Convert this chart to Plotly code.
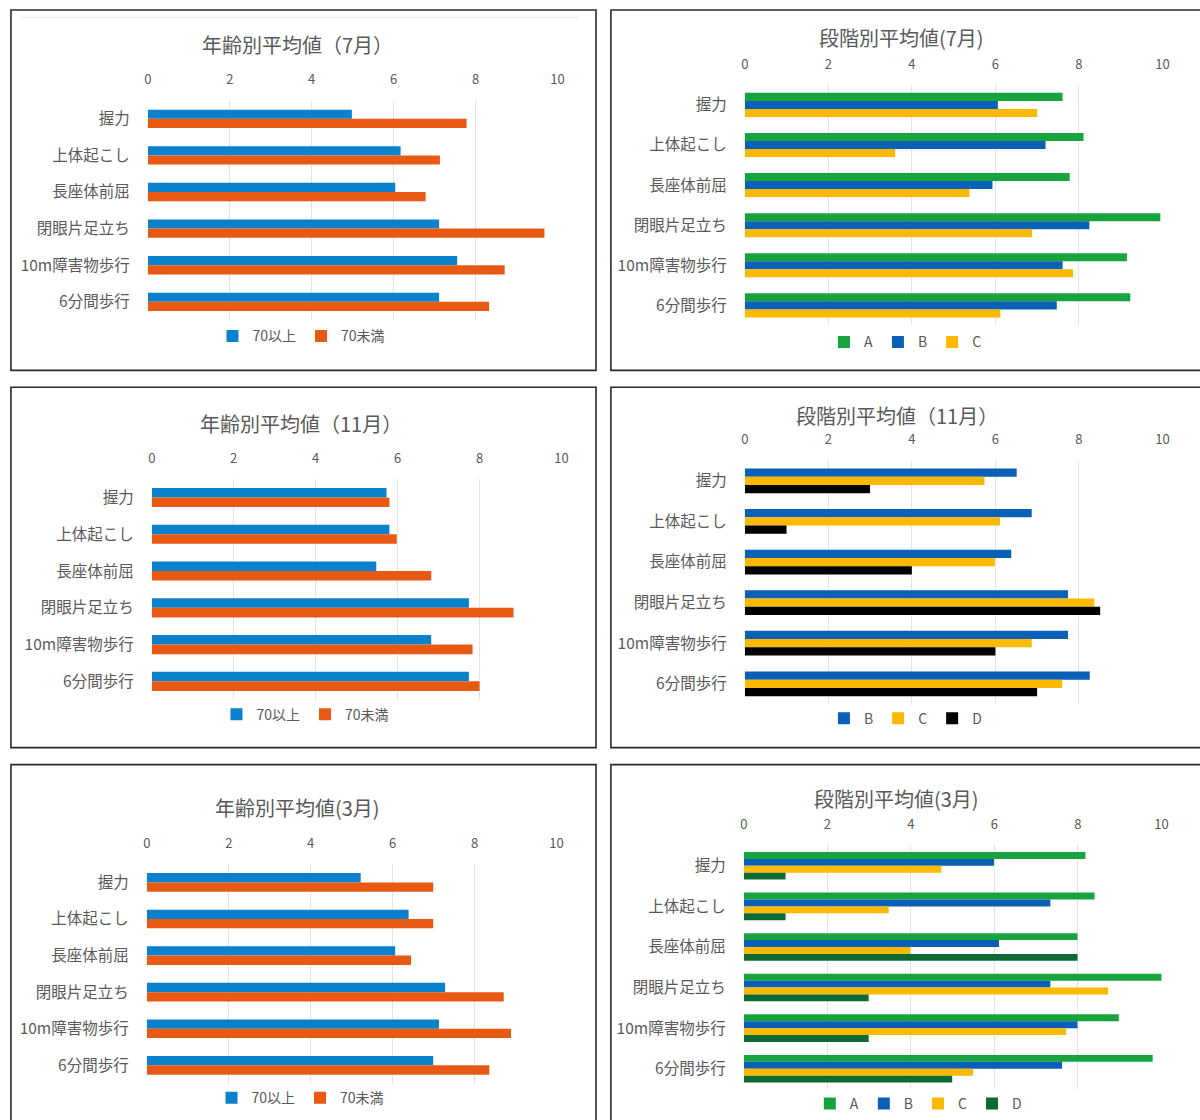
import plotly.graph_objects as go

# ---- data -------------------------------------------------------------
categories = ["握力", "上体起こし", "長座体前屈", "閉眼片足立ち", "10m障害物歩行", "6分間歩行"]
x_ticks = [0, 2, 4, 6, 8, 10]

# 年齢別 (70以上 / 70未満)
age_jul_70over = [4.98, 6.17, 6.04, 7.11, 7.55, 7.11]
age_jul_70under = [7.78, 7.13, 6.78, 9.68, 8.71, 8.33]
age_nov_70over = [5.73, 5.80, 5.48, 7.74, 6.82, 7.74]
age_nov_70under = [5.80, 5.98, 6.82, 8.83, 7.83, 8.00]
age_mar_70over = [5.22, 6.39, 6.06, 7.28, 7.13, 6.99]
age_mar_70under = [6.99, 6.99, 6.45, 8.71, 8.89, 8.36]

# 段階別 (A / B / C / D)
stage_jul_A = [7.61, 8.11, 7.78, 9.95, 9.15, 9.23]
stage_jul_B = [6.06, 7.20, 5.93, 8.25, 7.61, 7.47]
stage_jul_C = [7.00, 3.60, 5.38, 6.88, 7.86, 6.12]
stage_nov_B = [6.51, 6.87, 6.38, 7.74, 7.74, 8.26]
stage_nov_C = [5.74, 6.11, 5.99, 8.37, 6.87, 7.60]
stage_nov_D = [3.00, 1.00, 4.00, 8.51, 6.00, 7.00]
stage_mar_A = [8.18, 8.40, 7.99, 10.00, 8.98, 9.79]
stage_mar_B = [5.99, 7.34, 6.11, 7.34, 7.99, 7.62]
stage_mar_C = [4.73, 3.47, 3.99, 8.72, 7.72, 5.49]
stage_mar_D = [1.00, 1.00, 7.99, 2.99, 2.99, 4.99]

colors = {
    "70以上": "#0b80cc",
    "70未満": "#e85a13",
    "A": "#17a33d",
    "B": "#0a5fb6",
    "C": "#fbb900",
    "D": "#0c6a34",
}
colors["D_nov"] = "#000000"

# ---- layout helpers ---------------------------------------------------
W, H = 1200, 1120
FONT = "Noto Sans CJK JP, Noto Sans, sans-serif"
TEXT = "#595959"


def px(x):
    return x / W


def py(y):
    return 1 - y / H


panels = [
    dict(title="年齢別平均値（7月）",
         series=[("70以上", age_jul_70over, colors["70以上"]),
                 ("70未満", age_jul_70under, colors["70未満"])],
         xr=(145, 559), yr=(100.7, 320.7), title_xy=(296, 45),
         legend_xy=(300, 337), group=0.5,
         box=(7, 10, 597, 371)),
    dict(title="段階別平均値(7月)",
         series=[("A", stage_jul_A, colors["A"]),
                 ("B", stage_jul_B, colors["B"]),
                 ("C", stage_jul_C, colors["C"])],
         xr=(747, 1169), yr=(85, 326), title_xy=(905, 38),
         legend_xy=(909, 343), group=0.6,
         box=(612, 10, 1215, 371)),
    dict(title="年齢別平均値（11月）",
         series=[("70以上", age_nov_70over, colors["70以上"]),
                 ("70未満", age_nov_70under, colors["70未満"])],
         xr=(149, 563), yr=(480, 701), title_xy=(299, 424),
         legend_xy=(304, 716), group=0.52,
         box=(7, 388, 597, 749)),
    dict(title="段階別平均値（11月）",
         series=[("B", stage_nov_B, colors["B"]),
                 ("C", stage_nov_C, colors["C"]),
                 ("D", stage_nov_D, colors["D_nov"])],
         xr=(747, 1169), yr=(461.4, 705.3), title_xy=(900, 416),
         legend_xy=(909, 720), group=0.61,
         box=(612, 388, 1215, 749)),
    dict(title="年齢別平均値(3月)",
         series=[("70以上", age_mar_70over, colors["70以上"]),
                 ("70未満", age_mar_70under, colors["70未満"])],
         xr=(144, 558), yr=(865.7, 1085.6), title_xy=(296, 809),
         legend_xy=(299, 1100), group=0.51,
         box=(7, 766, 597, 1135)),
    dict(title="段階別平均値(3月)",
         series=[("A", stage_mar_A, colors["A"]),
                 ("B", stage_mar_B, colors["B"]),
                 ("C", stage_mar_C, colors["C"]),
                 ("D", stage_mar_D, colors["D"])],
         xr=(746, 1168), yr=(847, 1091), title_xy=(900, 800),
         legend_xy=(922, 1106), group=0.68,
         box=(612, 766, 1215, 1135)),
]

fig = go.Figure()
layout = dict(
    width=W, height=H,
    margin=dict(l=0, r=0, t=0, b=0),
    paper_bgcolor="white", plot_bgcolor="white",
    barmode="overlay",
    font=dict(family=FONT, color=TEXT),
    annotations=[], shapes=[],
)

for i, p in enumerate(panels):
    n = i + 1
    xa = "xaxis" if n == 1 else f"xaxis{n}"
    ya = "yaxis" if n == 1 else f"yaxis{n}"
    xref = "x" if n == 1 else f"x{n}"
    yref = "y" if n == 1 else f"y{n}"
    leg = "legend" if n == 1 else f"legend{n}"

    k = len(p["series"])
    w = p["group"] / k
    for j, (name, vals, col) in enumerate(p["series"]):
        fig.add_trace(go.Bar(
            x=vals, y=categories, orientation="h", name=name,
            marker=dict(color=col, line=dict(width=0)),
            width=w, offset=-p["group"] / 2 + j * w,
            xaxis=xref, yaxis=yref, legend=leg,
            hovertemplate="%{y}: %{x}<extra>" + name + "</extra>",
        ))

    layout[xa] = dict(
        domain=[px(p["xr"][0]), px(p["xr"][1])],
        anchor=yref, side="top", range=[0, 10.02],
        tickvals=x_ticks, ticktext=[str(t) for t in x_ticks],
        showgrid=True, gridcolor="#e4e4e4", gridwidth=1,
        zeroline=False, showline=False,
        ticks="outside", ticklen=0, ticklabelstandoff=10,
        tickfont=dict(size=13, color=TEXT, family=FONT),
    )
    layout[ya] = dict(
        domain=[py(p["yr"][1]), py(p["yr"][0])],
        anchor=xref, type="category", categoryorder="array",
        categoryarray=categories, autorange="reversed",
        showgrid=False, zeroline=False, showline=False,
        ticks="outside", ticklen=0, ticklabelstandoff=14,
        tickfont=dict(size=15.5, color=TEXT, family=FONT),
    )
    layout[leg] = dict(
        orientation="h", x=px(p["legend_xy"][0]), y=py(p["legend_xy"][1]),
        xanchor="center", yanchor="middle",
        font=dict(size=14, color=TEXT, family=FONT),
        bgcolor="rgba(0,0,0,0)", itemwidth=30,
        tracegroupgap=0, traceorder="normal",
    )
    layout["annotations"].append(dict(
        text=p["title"], xref="paper", yref="paper",
        x=px(p["title_xy"][0]), y=py(p["title_xy"][1]),
        xanchor="center", yanchor="middle", showarrow=False,
        font=dict(size=20, color=TEXT, family=FONT),
    ))
    x0, y0, x1, y1 = p["box"]
    layout["shapes"].append(dict(
        type="rect", xref="paper", yref="paper",
        x0=px(x0), x1=px(x1), y0=py(y1), y1=py(y0),
        line=dict(color="#2b2b2b", width=1.6), fillcolor="rgba(0,0,0,0)",
    ))

# faint rule near the top of the first chart area
layout["shapes"].append(dict(
    type="line", xref="paper", yref="paper",
    x0=px(18), x1=px(580), y0=py(17.5), y1=py(17.5),
    line=dict(color="#eceef0", width=1.5),
))

fig.update_layout(**layout)
fig.write_html("out.html")
